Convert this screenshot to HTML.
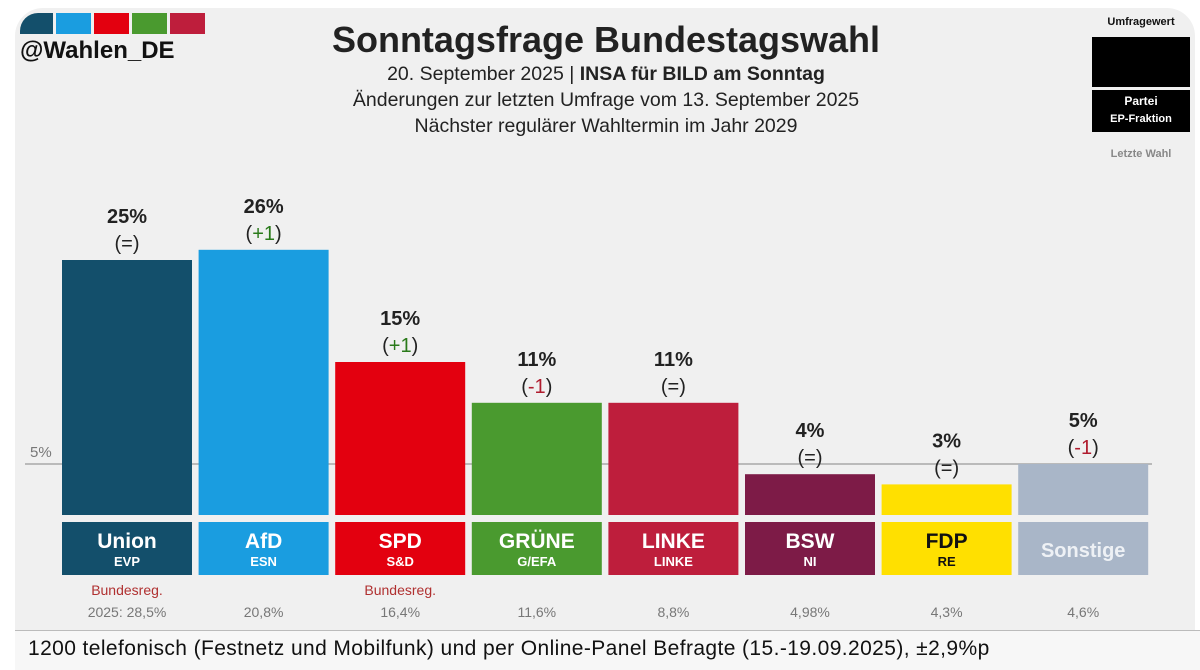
<!DOCTYPE html>
<html><head><meta charset="utf-8"><style>
html,body{margin:0;width:1200px;height:669px;background:#fff;overflow:hidden;font-family:"Liberation Sans","DejaVu Sans",sans-serif}
#card{position:absolute;left:15px;top:8px;width:1180px;height:661px;background:#f0f0f0;border-radius:28px 28px 0 0;overflow:hidden}
#foot{position:absolute;left:15px;top:630px;width:1185px;height:39px;background:#f7f7f7;border-top:1px solid #bbb}
.t{position:absolute;white-space:nowrap}
</style></head><body>
<div id="card"></div>
<div id="foot"></div>
<div class="t" style="left:20px;top:13px;display:flex;gap:3px">
<div style="width:33px;height:21px;background:#134f6b;border-top-left-radius:18px"></div><div style="width:35px;height:21px;background:#1a9de0"></div><div style="width:35px;height:21px;background:#e3000f"></div><div style="width:35px;height:21px;background:#4a9a2f"></div><div style="width:35px;height:21px;background:#be1e3c"></div></div>
<div class="t" style="left:20px;top:37px;font-size:24px;font-weight:bold;color:#111">@Wahlen_DE</div>
<div class="t" style="left:0;width:1200px;text-align:center;top:19px;font-size:36px;font-weight:bold;color:#222;margin-left:6px">Sonntagsfrage Bundestagswahl</div>
<div class="t" style="left:0;width:1200px;text-align:center;top:61px;font-size:19.5px;line-height:26px;color:#222;margin-left:6px">20. September 2025 | <b>INSA für BILD am Sonntag</b><br>Änderungen zur letzten Umfrage vom 13. September 2025<br>Nächster regulärer Wahltermin im Jahr 2029</div>
<div>
<div class="t" style="left:1092px;top:16px;width:98px;text-align:center;font-size:11px;font-weight:bold;color:#111">Umfragewert</div>
<div class="t" style="left:1092px;top:37px;width:98px;height:50px;background:#000"></div>
<div class="t" style="left:1092px;top:90px;width:98px;height:42px;background:#000;color:#fff;text-align:center;font-size:12px;font-weight:bold;line-height:17px;padding-top:3px;box-sizing:border-box">Partei<br><span style="font-size:11px">EP-Fraktion</span></div>
<div class="t" style="left:1092px;top:148px;width:98px;text-align:center;font-size:11px;font-weight:bold;color:#888">Letzte Wahl</div>
</div>
<svg id="chart" width="1200" height="669" style="position:absolute;left:0;top:0"></svg>
<div class="t" style="left:28px;top:637px;font-size:21px;letter-spacing:0.4px;color:#111">1200 telefonisch (Festnetz und Mobilfunk) und per Online-Panel Befragte (15.-19.09.2025), ±2,9%p</div>
<script>
const parties=["Union","AfD","SPD","GRÜNE","LINKE","BSW","FDP","Sonstige"];
const groups=["EVP","ESN","S&D","G/EFA","LINKE","NI","RE",""];
const values=[25,26,15,11,11,4,3,5];
const changes=["=","+1","+1","-1","=","=","=","-1"];
const lastElection=["2025: 28,5%","20,8%","16,4%","11,6%","8,8%","4,98%","4,3%","4,6%"];
const govt=[true,false,true,false,false,false,false,false];
const colors=["#134f6b","#1a9de0","#e3000f","#4a9a2f","#be1e3c","#7d1b47","#ffe000","#a9b6c8"];
const threshold=5;
const svg=document.getElementById('chart');const NS="http://www.w3.org/2000/svg";
const base=515,scale=10.2,x0=62,step=136.6,bw=130;
const y=v=>base-v*scale, x=i=>x0+i*step;
function mk(t,a,txt){const e=document.createElementNS(NS,t);for(const k in a)e.setAttribute(k,a[k]);if(txt!==undefined)e.textContent=txt;svg.appendChild(e);return e;}
let l=mk('line',{x1:25,x2:1152,y1:y(threshold),y2:y(threshold),stroke:'#999','stroke-width':1.2});

let tl=mk('text',{x:30,y:y(threshold)-7,'font-size':15,fill:'#777'},threshold+'%');

values.forEach((v,i)=>{
 const cx=x(i)+bw/2,tc=i==6?'#111':'#fff';
 let b=mk('rect',{x:x(i),y:y(v),width:bw,height:v*scale,fill:colors[i]});
 
 let vt=mk('text',{x:cx,y:y(v)-37,'text-anchor':'middle','font-size':20,'font-weight':'bold',fill:'#222'},v+'%');
 
 const c=changes[i],cc=c[0]=='+'?'#2a7a1a':c[0]=='-'?'#b01c2e':'#222';
 let ct=mk('text',{x:cx,y:y(v)-10,'text-anchor':'middle','font-size':20,fill:'#222'});
 ct.innerHTML='(<tspan fill="'+cc+'">'+c+'</tspan>)';
 
 let lb=mk('rect',{x:x(i),y:522,width:bw,height:53,fill:colors[i]});
 
 let pn=mk('text',{x:cx,y:groups[i]?548:557,'text-anchor':'middle','font-size':groups[i]?21:20,'font-weight':'bold',fill:i==7?'#eef1f5':tc},parties[i]);
 
 if(groups[i]){let g=mk('text',{x:cx,y:566,'text-anchor':'middle','font-size':13,'font-weight':'bold',fill:tc},groups[i]);
 }
 if(govt[i]){let gv=mk('text',{x:cx,y:595,'text-anchor':'middle','font-size':14,fill:'#b03030'},'Bundesreg.');
 }
 let le=mk('text',{x:cx,y:617,'text-anchor':'middle','font-size':14,fill:'#777'},lastElection[i]);
 
});
</script>
</body></html>
